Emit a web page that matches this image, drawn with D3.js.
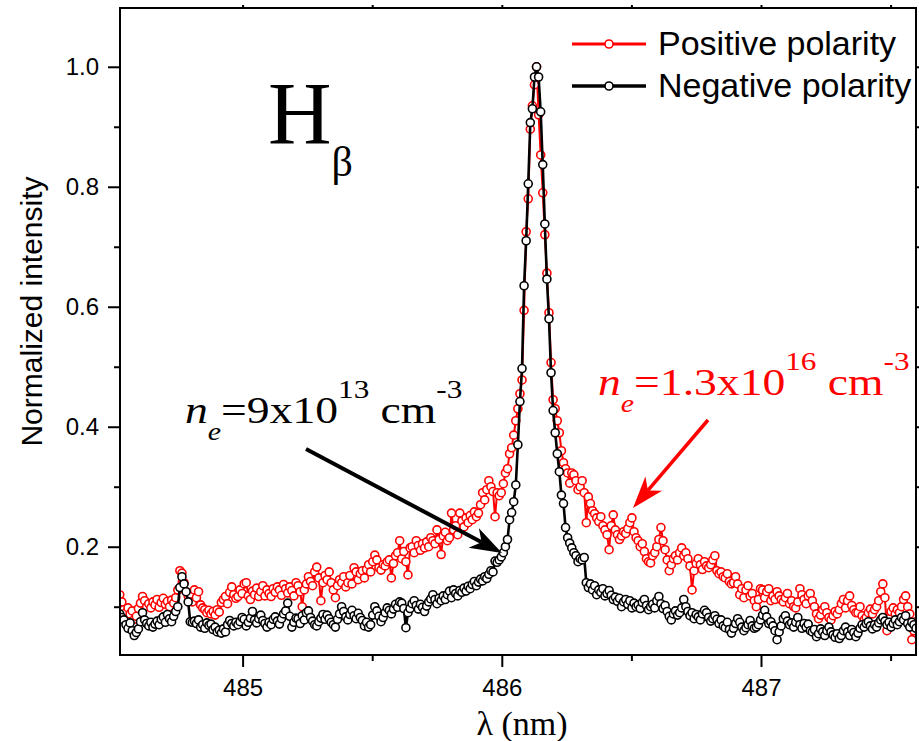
<!DOCTYPE html>
<html>
<head>
<meta charset="utf-8">
<script src="https://cdn.jsdelivr.net/npm/d3@7"></script>
<style>
    body { margin: 0; background: #fff; }
    svg { display: block; }
    .axis text { font-family: "Liberation Sans", Arial, sans-serif; font-size: 24px; fill: #000; }
    .axis line { stroke: #000; stroke-width: 2; }
    .serif { font-family: "Liberation Serif", "Times New Roman", serif; }
</style>
</head>
<body>
<div id="chart"></div>
<script>
// Global Variables
// wavelength grid of the spectrometer (nm)
var lambdaStart = 484.526;
var lambdaStep = 0.008;

var xTicks = [485, 486, 487];
var xMinorTicks = [485.5, 486.5, 487.5];
var yTicks = [0.2, 0.4, 0.6, 0.8, 1.0];
var yMinorTicks = [0.1, 0.3, 0.5, 0.7, 0.9];

var seriesNames = ['Positive polarity', 'Negative polarity'];
var color = ['#ff0000', '#000000'];

// normalized intensity, positive polarity (red)
var positive = [
    0.12,0.108,0.095,0.09,0.098,0.088,0.093,0.079,0.084,0.097,
    0.106,0.117,0.11,0.1,0.105,0.098,0.108,0.103,0.112,0.099,
    0.107,0.114,0.104,0.109,0.1,0.111,0.106,0.115,0.128,0.16,
    0.156,0.14,0.125,0.118,0.117,0.108,0.128,0.115,0.125,0.103,
    0.098,0.095,0.09,0.094,0.088,0.092,0.086,0.095,0.091,0.107,
    0.112,0.117,0.105,0.124,0.133,0.12,0.114,0.117,0.128,0.122,
    0.138,0.14,0.118,0.112,0.126,0.12,0.131,0.117,0.125,0.135,
    0.118,0.128,0.122,0.117,0.13,0.124,0.133,0.128,0.119,0.137,
    0.13,0.123,0.133,0.127,0.118,0.14,0.135,0.125,0.1,0.128,
    0.138,0.15,0.142,0.135,0.158,0.166,0.148,0.11,0.14,0.152,
    0.145,0.158,0.14,0.128,0.115,0.135,0.145,0.14,0.15,0.133,
    0.14,0.152,0.138,0.165,0.158,0.145,0.155,0.16,0.148,0.162,
    0.17,0.158,0.175,0.186,0.178,0.165,0.161,0.17,0.168,0.175,
    0.178,0.148,0.172,0.185,0.19,0.21,0.18,0.192,0.175,0.153,
    0.198,0.2,0.19,0.21,0.202,0.194,0.205,0.198,0.208,0.2,
    0.215,0.21,0.205,0.228,0.212,0.187,0.218,0.224,0.21,0.215,
    0.256,0.228,0.235,0.22,0.256,0.243,0.233,0.248,0.24,0.252,
    0.245,0.258,0.25,0.256,0.27,0.29,0.278,0.295,0.31,0.3,
    0.292,0.25,0.29,0.285,0.29,0.305,0.323,0.33,0.355,0.365,
    0.386,0.41,0.43,0.455,0.478,0.594,0.725,0.78,0.896,0.935,
    0.97,1.0,0.92,0.853,0.79,0.72,0.656,0.59,0.507,0.445,
    0.43,0.41,0.39,0.36,0.34,0.33,0.323,0.306,0.323,0.32,
    0.31,0.295,0.3,0.31,0.29,0.24,0.283,0.272,0.26,0.255,
    0.248,0.242,0.25,0.235,0.228,0.22,0.195,0.235,0.253,0.228,
    0.22,0.212,0.218,0.225,0.222,0.23,0.24,0.248,0.225,0.215,
    0.21,0.2,0.205,0.192,0.18,0.175,0.173,0.185,0.19,0.2,
    0.212,0.232,0.21,0.195,0.178,0.16,0.17,0.18,0.185,0.178,
    0.19,0.198,0.185,0.19,0.18,0.168,0.128,0.16,0.172,0.18,
    0.17,0.162,0.175,0.168,0.165,0.17,0.178,0.185,0.16,0.155,
    0.158,0.15,0.148,0.155,0.142,0.138,0.14,0.15,0.138,0.12,
    0.13,0.115,0.128,0.135,0.118,0.122,0.11,0.1,0.112,0.13,
    0.128,0.115,0.125,0.13,0.11,0.118,0.112,0.125,0.118,0.112,
    0.108,0.115,0.122,0.105,0.11,0.1,0.098,0.108,0.13,0.12,
    0.112,0.105,0.118,0.122,0.11,0.1,0.088,0.08,0.086,0.095,
    0.1,0.09,0.082,0.078,0.085,0.092,0.088,0.095,0.105,0.112,
    0.098,0.11,0.118,0.102,0.095,0.09,0.09,0.1,0.085,0.078,
    0.082,0.09,0.096,0.088,0.095,0.1,0.11,0.125,0.138,0.115,
    0.06,0.08,0.092,0.098,0.088,0.095,0.09,0.1,0.112,0.118,
    0.1,0.088,0.045,0.06,0.075
];

// normalized intensity, negative polarity (black)
var negative = [
    0.088,0.082,0.078,0.07,0.064,0.073,0.06,0.052,0.057,0.063,
    0.075,0.09,0.078,0.072,0.068,0.074,0.066,0.071,0.076,0.07,
    0.079,0.083,0.074,0.087,0.08,0.075,0.084,0.092,0.1,0.132,
    0.15,0.138,0.125,0.108,0.075,0.074,0.076,0.072,0.078,0.066,
    0.07,0.064,0.073,0.069,0.071,0.062,0.066,0.058,0.061,0.056,
    0.063,0.058,0.07,0.077,0.072,0.068,0.074,0.07,0.075,0.082,
    0.079,0.068,0.074,0.081,0.092,0.078,0.073,0.08,0.086,0.077,
    0.072,0.066,0.074,0.07,0.079,0.083,0.076,0.071,0.08,0.088,
    0.093,0.106,0.084,0.066,0.074,0.081,0.08,0.072,0.085,0.078,
    0.09,0.093,0.082,0.076,0.07,0.068,0.075,0.081,0.087,0.079,
    0.086,0.08,0.074,0.07,0.066,0.079,0.088,0.1,0.092,0.083,
    0.078,0.087,0.094,0.085,0.08,0.089,0.082,0.077,0.068,0.074,
    0.066,0.07,0.086,0.1,0.093,0.084,0.075,0.082,0.09,0.098,
    0.094,0.088,0.096,0.104,0.099,0.108,0.106,0.097,0.065,0.09,
    0.097,0.105,0.11,0.102,0.096,0.104,0.099,0.092,0.101,0.108,
    0.113,0.12,0.112,0.105,0.114,0.11,0.118,0.112,0.12,0.126,
    0.115,0.128,0.122,0.118,0.127,0.124,0.131,0.126,0.134,0.13,
    0.137,0.142,0.135,0.141,0.146,0.143,0.15,0.147,0.154,0.16,
    0.158,0.176,0.174,0.178,0.183,0.19,0.2,0.212,0.245,0.257,
    0.275,0.303,0.37,0.442,0.497,0.635,0.71,0.805,0.907,0.93,
    0.983,1.0,0.983,0.925,0.837,0.738,0.646,0.58,0.49,0.427,
    0.39,0.355,0.325,0.286,0.272,0.232,0.215,0.206,0.198,0.19,
    0.185,0.175,0.18,0.178,0.182,0.14,0.132,0.138,0.128,0.135,
    0.12,0.128,0.124,0.13,0.118,0.122,0.127,0.119,0.112,0.116,
    0.109,0.114,0.1,0.108,0.112,0.104,0.11,0.098,0.106,0.1,
    0.103,0.097,0.107,0.112,0.102,0.095,0.1,0.104,0.098,0.11,
    0.117,0.105,0.097,0.102,0.092,0.084,0.078,0.088,0.093,0.086,
    0.09,0.098,0.112,0.1,0.092,0.085,0.09,0.08,0.087,0.083,
    0.078,0.088,0.094,0.09,0.082,0.076,0.08,0.085,0.079,0.072,
    0.078,0.068,0.065,0.074,0.062,0.056,0.064,0.072,0.08,0.074,
    0.066,0.06,0.065,0.07,0.077,0.068,0.064,0.066,0.07,0.078,
    0.086,0.094,0.083,0.072,0.075,0.068,0.06,0.045,0.058,0.068,
    0.08,0.085,0.076,0.07,0.073,0.066,0.074,0.082,0.07,0.064,
    0.072,0.066,0.071,0.06,0.058,0.062,0.05,0.055,0.063,0.058,
    0.052,0.06,0.066,0.058,0.053,0.049,0.055,0.047,0.052,0.06,
    0.066,0.058,0.052,0.062,0.057,0.05,0.056,0.064,0.07,0.066,
    0.072,0.075,0.068,0.063,0.07,0.066,0.073,0.078,0.082,0.076,
    0.07,0.074,0.066,0.072,0.078,0.07,0.075,0.082,0.078,0.085,
    0.072,0.066,0.074,0.07,0.064
];

// Functions
function toPoints(values) {
    return values.map(function(v, i) {
        return { lambda: lambdaStart + i * lambdaStep, value: v };
    });
}

function drawArrow(svg, x1, y1, x2, y2, colr, w) {
    var dx = x2 - x1, dy = y2 - y1;
    var len = Math.sqrt(dx * dx + dy * dy);
    var ux = dx / len, uy = dy / len;
    var px = -uy, py = ux;
    var hl = 32, hw = 11;
    var bx = x2 - ux * hl, by = y2 - uy * hl;
    var nx = x2 - ux * hl * 0.72, ny = y2 - uy * hl * 0.72;
    svg.append("line")
        .attr("x1", x1).attr("y1", y1)
        .attr("x2", nx).attr("y2", ny)
        .style("stroke", colr)
        .style("stroke-width", w);
    svg.append("path")
        .attr("d", "M" + x2 + "," + y2 +
                   "L" + (bx + px * hw) + "," + (by + py * hw) +
                   "L" + nx + "," + ny +
                   "L" + (bx - px * hw) + "," + (by - py * hw) + "Z")
        .style("fill", colr);
}

function makeChart() {
    var W = 919, H = 741;
    var left = 120, right = 916, top = 8, bottom = 655;

    var svg = d3.select("#chart").append("svg")
        .attr("width", W)
        .attr("height", H);

    svg.append("rect").attr("width", W).attr("height", H).style("fill", "#fff");

    var x = d3.scaleLinear().domain([484.527, 487.598]).range([left, right]);
    var y = d3.scaleLinear().domain([0.0195, 1.098]).range([bottom, top]);

    // clip for the data
    svg.append("clipPath").attr("id", "plotclip")
        .append("rect")
            .attr("x", left).attr("y", top)
            .attr("width", right - left).attr("height", bottom - top);

    var valueline = d3.line()
        .x(function(d) { return x(d.lambda); })
        .y(function(d) { return y(d.value); });

    var plot = svg.append("g").attr("clip-path", "url(#plotclip)");

    [positive, negative].forEach(function(vals, k) {
        var pts = toPoints(vals);
        plot.append("path")
            .attr("d", valueline(pts))
            .style("fill", "none")
            .style("stroke", color[k])
            .style("stroke-width", k == 0 ? 2 : 2.6)
            .style("stroke-linejoin", "round");
        plot.selectAll(".pt" + k)
            .data(pts)
            .enter().append("circle")
                .attr("class", "pt" + k)
                .attr("cx", function(d) { return x(d.lambda); })
                .attr("cy", function(d) { return y(d.value); })
                .attr("r", 4)
                .style("fill", "#fff")
                .style("stroke", color[k])
                .style("stroke-width", 1.6);
    });

    // Add the X Axis
    svg.append("g")
        .attr("class", "axis")
        .attr("transform", "translate(0," + bottom + ")")
        .call(d3.axisBottom(x).tickValues(xTicks).tickSize(12).tickPadding(12)
              .tickFormat(d3.format("d")));
    svg.append("g")
        .attr("class", "axis")
        .attr("transform", "translate(0," + bottom + ")")
        .call(d3.axisBottom(x).tickValues(xMinorTicks).tickSize(6).tickFormat(""));
    svg.append("g")
        .attr("class", "axis")
        .attr("transform", "translate(0," + top + ")")
        .call(d3.axisTop(x).tickValues(xTicks.concat(xMinorTicks)).tickSize(3).tickFormat(""));

    // Add the Y Axis
    svg.append("g")
        .attr("class", "axis")
        .attr("transform", "translate(" + left + ",0)")
        .call(d3.axisLeft(y).tickValues(yTicks).tickSize(12).tickPadding(9)
              .tickFormat(d3.format(".1f")));
    svg.append("g")
        .attr("class", "axis")
        .attr("transform", "translate(" + left + ",0)")
        .call(d3.axisLeft(y).tickValues(yMinorTicks).tickSize(6).tickFormat(""));
    svg.append("g")
        .attr("class", "axis")
        .attr("transform", "translate(" + right + ",0)")
        .call(d3.axisRight(y).tickValues(yTicks.concat(yMinorTicks)).tickSize(3).tickFormat(""));

    svg.selectAll(".axis .domain").remove();

    // frame
    svg.append("rect")
        .attr("x", left).attr("y", top)
        .attr("width", right - left).attr("height", bottom - top)
        .style("fill", "none")
        .style("stroke", "#000")
        .style("stroke-width", 2);

    // axis titles
    svg.append("text")
        .attr("transform", "translate(42," + ((top + bottom) / 2 - 20) + ") rotate(-90)")
        .style("text-anchor", "middle")
        .style("font-family", "'Liberation Sans', Arial, sans-serif")
        .style("font-size", "30px")
        .text("Normalized intensity");

    svg.append("text")
        .attr("class", "serif")
        .attr("x", (left + right) / 2 + 4)
        .attr("y", 735)
        .style("text-anchor", "middle")
        .style("font-size", "34px")
        .text("\u03bb (nm)");

    // legend
    seriesNames.forEach(function(name, k) {
        var ly = 44 + k * 42;
        svg.append("line")
            .attr("x1", 572).attr("x2", 646)
            .attr("y1", ly).attr("y2", ly)
            .style("stroke", color[k])
            .style("stroke-width", k == 0 ? 3 : 3.5);
        svg.append("circle")
            .attr("cx", 609).attr("cy", ly).attr("r", 4)
            .style("fill", "#fff")
            .style("stroke", color[k])
            .style("stroke-width", 1.6);
        svg.append("text")
            .attr("x", 658).attr("y", ly + 11)
            .style("font-family", "'Liberation Sans', Arial, sans-serif")
            .style("font-size", "34px")
            .text(name);
    });

    // H beta label
    var hb = svg.append("text").attr("class", "serif").attr("x", 268).attr("y", 143);
    hb.append("tspan").style("font-size", "88px").text("H");
    hb.append("tspan").style("font-size", "42px").attr("dy", 33).text("\u03b2");

    // density labels
    function density(px, py, mant, expo, colr) {
        var t = svg.append("text")
            .attr("class", "serif")
            .attr("transform", "translate(" + px + "," + py + ") scale(1.2,1)")
            .style("fill", colr)
            .style("font-size", "38px");
        t.append("tspan").style("font-style", "italic").text("n");
        t.append("tspan").style("font-style", "italic").style("font-size", "25px")
            .attr("dy", 17).text("e");
        t.append("tspan").attr("dy", -17).text("=" + mant + "x10");
        t.append("tspan").style("font-size", "26px").attr("dy", -25).text(expo);
        t.append("tspan").attr("dy", 25).text(" cm");
        t.append("tspan").style("font-size", "26px").attr("dy", -25).text("-3");
    }
    density(185, 423, "9", "13", "#000");
    density(598, 395, "1.3", "16", "#ff0000");

    drawArrow(svg, 306, 449, 502, 553, "#000", 4);
    drawArrow(svg, 708, 420, 633, 508, "#ff0000", 3.5);
}

makeChart();
</script>
</body>
</html>
